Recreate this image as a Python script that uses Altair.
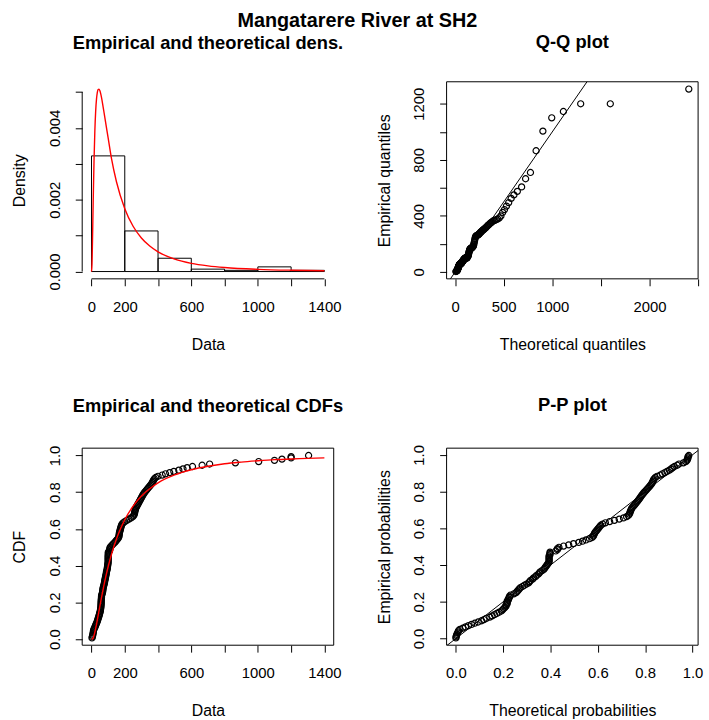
import json
import altair as alt
import pandas as pd

FONT = "Liberation Sans"

main_title = "Mangatarere River at SH2"
panel_titles = ["Empirical and theoretical dens.", "Q-Q plot",
                "Empirical and theoretical CDFs", "P-P plot"]

# sorted sample (empirical quantiles), read from the Q-Q / CDF panels
sample = [3, 5, 7, 8, 10, 11, 12, 14, 18, 21,
          24, 27, 30, 33, 36, 38, 40, 43, 45, 47,
          49, 51, 53, 54, 55, 56, 57, 57, 58, 58,
          58, 59, 59, 60, 60, 61, 64, 66, 67, 68,
          69, 70, 72, 74, 76, 78, 79, 80, 82, 83,
          85, 86, 88, 89, 90, 92, 94, 95, 96, 97,
          98, 99, 100, 100, 100, 100, 100, 100, 101, 101,
          101, 108, 110, 110, 112, 118, 125, 132, 140, 146,
          152, 158, 163, 165, 166, 167, 168, 170, 172, 174,
          176, 178, 180, 184, 190, 200, 212, 225, 238, 248,
          254, 257, 259, 260, 262, 264, 266, 270, 274, 278,
          282, 286, 290, 294, 298, 302, 306, 310, 315, 320,
          326, 332, 338, 344, 350, 356, 362, 366, 370, 374,
          378, 386, 400, 425, 445, 470, 495, 525, 550, 575,
          607, 665, 710, 865, 1005, 1100, 1145, 1200, 1200, 1305]

# theoretical quantiles (x of the Q-Q panel)
theo_q = [7.5, 11.3, 13.9, 16.2, 18.1, 19.9, 21.6, 23.3, 24.8, 26.3,
          27.8, 29.3, 30.7, 32.1, 33.5, 34.9, 36.2, 37.6, 38.9, 40.3,
          41.7, 43.0, 44.4, 45.7, 47.0, 48.4, 49.7, 51.1, 52.4, 53.8,
          55.2, 56.6, 58.0, 59.3, 60.8, 62.2, 63.6, 65.1, 66.5, 68.0,
          69.4, 70.9, 72.5, 74.0, 75.5, 77.0, 78.6, 80.2, 81.7, 83.5,
          85.1, 86.7, 88.4, 90.1, 91.8, 93.5, 95.3, 97.1, 98.9, 100.7,
          102.5, 104.4, 106.4, 108.3, 110.3, 112.3, 114.2, 116.3, 118.4, 120.6,
          122.8, 124.9, 127.1, 129.5, 131.8, 134.2, 136.6, 139.1, 141.6, 144.1,
          146.7, 149.4, 152.0, 154.8, 157.5, 160.4, 163.2, 166.2, 169.4, 172.5,
          175.6, 178.8, 182.2, 185.5, 189.1, 192.7, 196.3, 200.0, 204.0, 208.0,
          212.0, 216.4, 220.6, 225.0, 229.6, 234.2, 239.0, 244.1, 249.5, 254.8,
          260.2, 266.0, 271.6, 278.2, 284.4, 291.0, 298.1, 305.0, 312.4, 320.7,
          328.8, 337.4, 346.3, 355.8, 365.5, 376.3, 387.0, 398.7, 411.4, 424.7,
          438.9, 454.6, 470.7, 488.5, 507.4, 528.1, 550.9, 576.2, 604.5, 640.0,
          684.0, 725.0, 775.0, 833.0, 903.0, 994.0, 1114.0, 1292.0, 1597.0, 2405.0]

# theoretical probabilities (x of the P-P panel)
theo_p = [0.0002, 0.0010, 0.0027, 0.0040, 0.0073, 0.0094, 0.0116, 0.0168, 0.0296, 0.0408,
          0.0532, 0.0663, 0.0800, 0.0944, 0.1090, 0.1188, 0.1286, 0.1434, 0.1534, 0.1633,
          0.1731, 0.1830, 0.1927, 0.1977, 0.2024, 0.2072, 0.2121, 0.2121, 0.2168, 0.2168,
          0.2168, 0.2218, 0.2218, 0.2263, 0.2263, 0.2312, 0.2451, 0.2546, 0.2591, 0.2637,
          0.2680, 0.2723, 0.2816, 0.2901, 0.2991, 0.3075, 0.3117, 0.3160, 0.3242, 0.3285,
          0.3365, 0.3405, 0.3483, 0.3527, 0.3564, 0.3643, 0.3718, 0.3756, 0.3790, 0.3832,
          0.3867, 0.3905, 0.3940, 0.3940, 0.3940, 0.3940, 0.3940, 0.3940, 0.3978, 0.3978,
          0.3978, 0.4223, 0.4290, 0.4290, 0.4357, 0.4554, 0.4769, 0.4972, 0.5195, 0.5355,
          0.5501, 0.5647, 0.5761, 0.5808, 0.5828, 0.5851, 0.5875, 0.5917, 0.5960, 0.6003,
          0.6041, 0.6083, 0.6126, 0.6206, 0.6319, 0.6499, 0.6700, 0.6904, 0.7085, 0.7217,
          0.7291, 0.7330, 0.7353, 0.7366, 0.7389, 0.7412, 0.7434, 0.7479, 0.7524, 0.7568,
          0.7609, 0.7652, 0.7692, 0.7731, 0.7767, 0.7805, 0.7841, 0.7879, 0.7922, 0.7964,
          0.8012, 0.8059, 0.8106, 0.8152, 0.8194, 0.8236, 0.8277, 0.8305, 0.8330, 0.8352,
          0.8380, 0.8428, 0.8506, 0.8635, 0.8729, 0.8832, 0.8925, 0.9024, 0.9099, 0.9164,
          0.9239, 0.9356, 0.9430, 0.9614, 0.9718, 0.9769, 0.9789, 0.9810, 0.9810, 0.9844]

# histogram (density scale)
hist_breaks = [0, 200, 400, 600, 800, 1000, 1200, 1400]
hist_density = [0.00322, 0.00113, 0.00037, 0.000067, 0.000033, 0.00013, 0.000033]

# red theoretical density curve
dens_x = [0, 3, 4, 6, 8, 10, 12, 15, 20, 25, 30, 35, 40, 45, 50, 60, 70, 80, 100,
          120, 150, 200, 250, 300, 350, 400, 500, 600, 700, 800, 1000, 1200, 1400]
dens_y = [0, 0.0002, 0.0004, 0.00087, 0.0014, 0.00191, 0.00239, 0.00305, 0.0039,
          0.00446, 0.0048, 0.00499, 0.00507, 0.00508, 0.00504, 0.00485, 0.00458,
          0.00429, 0.00372, 0.00315, 0.0025, 0.00175, 0.00126, 0.000934, 0.000709,
          0.000548, 0.000345, 0.000228, 0.000158, 0.000112, 0.0000614, 0.0000364,
          0.0000228]

# red theoretical CDF curve
cdf_x = [0, 5, 10, 15, 20, 30, 40, 50, 60, 80, 100, 125, 150, 175, 200, 250, 300,
         350, 400, 500, 600, 700, 800, 900, 1000, 1100, 1200, 1300, 1400]
cdf_y = [0, 0.001, 0.007, 0.020, 0.037, 0.080, 0.129, 0.178, 0.226, 0.316, 0.394,
         0.477, 0.545, 0.602, 0.650, 0.724, 0.779, 0.819, 0.851, 0.894, 0.922, 0.941,
         0.955, 0.964, 0.971, 0.977, 0.981, 0.984, 0.987]

data_xlim = [0, 1400]
data_xticks = [0, 200, 400, 600, 800, 1000, 1200, 1400]
data_xticks_hidden = [400, 800, 1200]
dens_yticks = [0, 0.001, 0.002, 0.003, 0.004, 0.005]
dens_yticks_hidden = [0.001, 0.003, 0.005]
qq_xticks = [0, 500, 1000, 1500, 2000, 2500]
qq_xticks_hidden = [1500, 2500]
qq_yticks = [0, 200, 400, 600, 800, 1000, 1200]
qq_yticks_hidden = [200, 600, 1000]
prob_ticks = [0, 0.2, 0.4, 0.6, 0.8, 1.0]

n = len(sample)
emp_cdf = [(i + 1) / n for i in range(n)]
emp_pp = [(i + 0.5) / n for i in range(n)]

W, H = 254, 199


def ext(lo, hi):
    pad = 0.04 * (hi - lo)
    return [lo - pad, hi + pad]


def hide_expr(hidden):
    if not hidden:
        return "datum.label"
    return "indexof(" + json.dumps(hidden) + ", datum.value) >= 0 ? '' : datum.label"


common_axis = dict(grid=False, domain=False, ticks=True, tickSize=7, tickColor="black",
                   tickWidth=1, labelColor="black", labelFont=FONT, labelFontSize=15,
                   labelOverlap=False, labelFlush=False, labelBound=False,
                   titleColor="black", titleFont=FONT, titleFontSize=16,
                   titleFontWeight="normal")


def xaxis(title, values, fmt, hidden):
    return alt.Axis(title=title, values=values, format=fmt, labelExpr=hide_expr(hidden),
                    labelAngle=0, labelPadding=14, titlePadding=22, **common_axis)


def yaxis(title, values, fmt, hidden):
    return alt.Axis(title=title, values=values, format=fmt, labelExpr=hide_expr(hidden),
                    labelAngle=270, labelAlign="center", labelBaseline="bottom",
                    labelPadding=13, titlePadding=20, **common_axis)


def ptitle(text):
    return alt.TitleParams(text, font=FONT, fontSize=18.5, fontWeight="bold", color="black",
                           anchor="middle", frame="group", baseline="alphabetic", offset=15)


def X(field, sc, ax):
    return alt.X(field, type="quantitative", scale=sc, axis=ax)


def Y(field, sc, ax):
    return alt.Y(field, type="quantitative", scale=sc, axis=ax)


def box(xd, yd, xsc, ysc, xax, yax):
    df = pd.DataFrame({"bx": [xd[0]], "bx2": [xd[1]], "by": [yd[0]], "by2": [yd[1]]})
    return alt.Chart(df).mark_rect(fill="white", fillOpacity=0, stroke="black",
                                   strokeWidth=1).encode(
        x=X("bx", xsc, xax), x2="bx2:Q", y=Y("by", ysc, yax), y2="by2:Q")


def diag(xd, xsc, ysc, xax, yax):
    df = pd.DataFrame({"dx": [xd[0], xd[1]], "dy": [xd[0], xd[1]]})
    return alt.Chart(df).mark_line(color="black", strokeWidth=1, clip=True).encode(
        x=X("dx", xsc, xax), y=Y("dy", ysc, yax))


pt = dict(shape="circle", filled=False, color="black", size=38, strokeWidth=1.2, opacity=1)

# ---- panel 1: histogram + density
xd1 = ext(*data_xlim)
yd1 = ext(0, max(max(hist_density), max(dens_y)))
xs1 = alt.Scale(domain=xd1, nice=False, zero=False)
ys1 = alt.Scale(domain=yd1, nice=False, zero=False)
xa1 = xaxis("Data", data_xticks, "d", data_xticks_hidden)
ya1 = yaxis("Density", dens_yticks, ".3f", dens_yticks_hidden)
hist_df = pd.DataFrame({"lo": hist_breaks[:-1], "hi": hist_breaks[1:],
                        "dens": hist_density, "base": [0] * len(hist_density)})
bars = alt.Chart(hist_df).mark_rect(fill="white", fillOpacity=0, stroke="black",
                                    strokeWidth=1).encode(
    x=X("lo", xs1, xa1), x2="hi:Q", y=Y("dens", ys1, ya1), y2="base:Q")
dens_df = pd.DataFrame({"lo": dens_x, "dens": dens_y})
dline = alt.Chart(dens_df).mark_line(color="red", strokeWidth=1.4,
                                     interpolate="monotone").encode(
    x=X("lo", xs1, xa1), y=Y("dens", ys1, ya1))
xl_df = pd.DataFrame({"lo": [data_xticks[0]], "hi": [data_xticks[-1]], "dens": [yd1[0]]})
xline = alt.Chart(xl_df).mark_rule(color="black", strokeWidth=1).encode(
    x=X("lo", xs1, xa1), x2="hi:Q", y=Y("dens", ys1, ya1))
yl_df = pd.DataFrame({"lo": [xd1[0]], "dens": [dens_yticks[0]], "top": [dens_yticks[-1]]})
yline = alt.Chart(yl_df).mark_rule(color="black", strokeWidth=1).encode(
    x=X("lo", xs1, xa1), y=Y("dens", ys1, ya1), y2="top:Q")
p1 = alt.layer(bars, dline, xline, yline).properties(
    width=W, height=H, title=ptitle(panel_titles[0]))

# ---- panel 2: Q-Q
xd2 = ext(min(theo_q), max(theo_q))
yd2 = ext(min(sample), max(sample))
xs2 = alt.Scale(domain=xd2, nice=False, zero=False)
ys2 = alt.Scale(domain=yd2, nice=False, zero=False)
xa2 = xaxis("Theoretical quantiles", qq_xticks, "d", qq_xticks_hidden)
ya2 = yaxis("Empirical quantiles", qq_yticks, "d", qq_yticks_hidden)
qq_df = pd.DataFrame({"tq": theo_q, "s": sample})
qq_pts = alt.Chart(qq_df).mark_point(**pt).encode(x=X("tq", xs2, xa2), y=Y("s", ys2, ya2))
p2 = alt.layer(qq_pts, diag(xd2, xs2, ys2, xa2, ya2),
               box(xd2, yd2, xs2, ys2, xa2, ya2)).properties(
    width=W, height=H, title=ptitle(panel_titles[1]))

# ---- panel 3: CDF
xd3 = ext(*data_xlim)
yd3 = ext(min(emp_cdf), max(emp_cdf))
xs3 = alt.Scale(domain=xd3, nice=False, zero=False)
ys3 = alt.Scale(domain=yd3, nice=False, zero=False)
xa3 = xaxis("Data", data_xticks, "d", data_xticks_hidden)
ya3 = yaxis("CDF", prob_ticks, ".1f", [])
cdf_df = pd.DataFrame({"s": sample, "F": emp_cdf})
cdf_pts = alt.Chart(cdf_df).mark_point(**pt).encode(x=X("s", xs3, xa3), y=Y("F", ys3, ya3))
cdf_line_df = pd.DataFrame({"s": cdf_x, "F": cdf_y})
cdf_line = alt.Chart(cdf_line_df).mark_line(color="red", strokeWidth=1.4,
                                            interpolate="monotone").encode(
    x=X("s", xs3, xa3), y=Y("F", ys3, ya3))
p3 = alt.layer(cdf_pts, cdf_line, box(xd3, yd3, xs3, ys3, xa3, ya3)).properties(
    width=W, height=H, title=ptitle(panel_titles[2]))

# ---- panel 4: P-P
xd4 = ext(min(theo_p), max(theo_p))
yd4 = ext(min(emp_pp), max(emp_pp))
xs4 = alt.Scale(domain=xd4, nice=False, zero=False)
ys4 = alt.Scale(domain=yd4, nice=False, zero=False)
xa4 = xaxis("Theoretical probabilities", prob_ticks, ".1f", [])
ya4 = yaxis("Empirical probabilities", prob_ticks, ".1f", [])
pp_df = pd.DataFrame({"tp": theo_p, "ep": emp_pp})
pp_pts = alt.Chart(pp_df).mark_point(**pt).encode(x=X("tp", xs4, xa4), y=Y("ep", ys4, ya4))
p4 = alt.layer(pp_pts, diag(xd4, xs4, ys4, xa4, ya4),
               box(xd4, yd4, xs4, ys4, xa4, ya4)).properties(
    width=W, height=H, title=ptitle(panel_titles[3]))

chart = alt.concat(p1, p2, p3, p4, columns=2, spacing={"row": 171, "column": 114},
                   bounds="flush").properties(
    title=alt.TitleParams(main_title, font=FONT, fontSize=20, fontWeight="bold",
                          color="black", anchor="middle", offset=2),
    padding={"left": 11, "top": 7, "right": 5, "bottom": 3},
    background="white",
).configure_view(stroke="transparent")

chart.save("out.html", embed_options={"renderer": "svg", "actions": False})
